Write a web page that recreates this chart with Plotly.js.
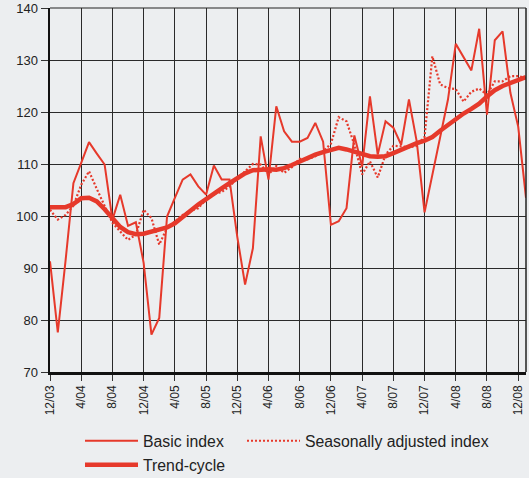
<!DOCTYPE html>
<html>
<head>
<meta charset="utf-8">
<script src="https://cdn.plot.ly/plotly-3.0.1.min.js"></script>
<style>
html,body{margin:0;padding:0;background:#eceef0;}
#chart{width:529px;height:478px;}
</style>
</head>
<body>
<div id="chart"></div>
<script>
// Months 12/03 .. 1/09
var months = ['12/03',
 '1/04','2/04','3/04','4/04','5/04','6/04','7/04','8/04','9/04','10/04','11/04','12/04',
 '1/05','2/05','3/05','4/05','5/05','6/05','7/05','8/05','9/05','10/05','11/05','12/05',
 '1/06','2/06','3/06','4/06','5/06','6/06','7/06','8/06','9/06','10/06','11/06','12/06',
 '1/07','2/07','3/07','4/07','5/07','6/07','7/07','8/07','9/07','10/07','11/07','12/07',
 '1/08','2/08','3/08','4/08','5/08','6/08','7/08','8/08','9/08','10/08','11/08','12/08',
 '1/09'];

var tickLabels = ['12/03','4/04','8/04','12/04','4/05','8/05','12/05','4/06','8/06','12/06','4/07','8/07','12/07','4/08','8/08','12/08'];

var basicIndex = [91.3, 77.6, 91.5, 106.3, 110.2, 114.2, 112.0, 109.9, 99.3, 104.1, 98.1, 98.8,
 91.0, 77.2, 80.4, 99.9, 103.5, 107.0, 108.0, 105.7, 104.1, 109.7, 107.0, 107.0,
 96.0, 86.8, 93.8, 115.3, 107.0, 121.1, 116.3, 114.3, 114.3, 115.0, 117.9, 114.3,
 98.3, 99.0, 101.5, 115.5, 109.5, 123.0, 111.8, 118.2, 117.0, 113.7, 122.4, 114.3,
 100.7, 107.8, 115.0, 122.4, 133.1, 130.6, 128.0, 136.0, 119.5, 133.8, 135.5, 123.7,
 117.2, 103.5];

var seasonallyAdjusted = [101.2, 99.3, 100.2, 102.0, 106.0, 108.6, 105.2, 101.8, 98.7, 97.0, 95.4, 96.4,
 101.2, 99.6, 94.5, 97.7, 99.0, 100.2, 101.0, 101.5, 103.2, 104.3, 104.6, 105.7,
 107.2, 108.6, 110.0, 109.9, 108.0, 109.6, 108.3, 109.4, 111.0, 110.9, 111.5, 112.4,
 113.9, 119.0, 118.2, 113.7, 108.0, 110.5, 107.4, 111.8, 113.5, 113.4, 113.2, 113.5,
 115.2, 130.7, 125.3, 124.6, 124.4, 122.0, 123.9, 124.5, 123.3, 125.9, 125.9, 126.9,
 126.9, 126.5];

var trendCycle = [101.7, 101.7, 101.7, 102.3, 103.4, 103.5, 102.8, 101.3, 99.5, 97.9, 96.9, 96.5,
 96.6, 97.0, 97.5, 97.8, 98.6, 99.7, 101.0, 102.2, 103.3, 104.4, 105.3, 106.3,
 107.3, 108.2, 108.8, 109.0, 109.0, 108.9, 109.2, 109.8, 110.5, 111.2, 111.8, 112.3,
 112.8, 113.1, 112.8, 112.4, 112.0, 111.5, 111.4, 111.5, 112.1, 112.8, 113.4, 114.0,
 114.5, 115.2, 116.4, 117.5, 118.7, 119.7, 120.6, 121.6, 123.0, 124.2, 125.0, 125.6,
 126.2, 126.7];

var red = '#e6392b';

var traces = [
  {x: months, y: basicIndex, type: 'scatter', mode: 'lines', name: 'Basic index',
   legend: 'legend', line: {color: red, width: 2}},
  {x: months, y: seasonallyAdjusted, type: 'scatter', mode: 'lines', name: 'Seasonally adjusted index',
   legend: 'legend2', line: {color: red, width: 2.2, dash: '2px,2px'}},
  {x: months, y: trendCycle, type: 'scatter', mode: 'lines', name: 'Trend-cycle',
   legend: 'legend3', line: {color: red, width: 4.5}}
];

function legendAt(x, y) {
  return {
    orientation: 'h', xref: 'container', yref: 'container',
    x: x, y: y, xanchor: 'left', yanchor: 'middle',
    bgcolor: 'rgba(0,0,0,0)', borderwidth: 0,
    font: {size: 15.8, color: '#222'}, itemwidth: 53
  };
}

var layout = {
  width: 529, height: 478,
  paper_bgcolor: '#eceef0', plot_bgcolor: '#eceef0',
  margin: {l: 50, r: 3, t: 8, b: 106, autoexpand: false},
  font: {family: 'Liberation Sans, Arial, sans-serif', color: '#222'},
  showlegend: true,
  legend: legendAt(80 / 529, 1 - 441 / 478),
  legend2: legendAt(242 / 529, 1 - 441 / 478),
  legend3: legendAt(80 / 529, 1 - 465 / 478),
  xaxis: {
    type: 'category', categoryorder: 'array', categoryarray: months,
    range: [0, 61], tickmode: 'array', tickvals: tickLabels, ticktext: tickLabels,
    tickangle: -90, tickfont: {size: 12, color: '#222'},
    showgrid: true, gridcolor: '#2a2a2a', gridwidth: 1,
    ticks: 'outside', ticklen: 6, tickcolor: '#333', tickwidth: 1,
    showline: true, linecolor: '#111', linewidth: 2.5, zeroline: false, fixedrange: true
  },
  yaxis: {
    range: [70, 140], dtick: 10, tick0: 70,
    tickfont: {size: 13, color: '#222'},
    showgrid: true, gridcolor: '#2a2a2a', gridwidth: 1,
    ticks: 'outside', ticklen: 7, tickcolor: '#333', tickwidth: 1,
    showline: true, linecolor: '#111', linewidth: 2.5, zeroline: false, fixedrange: true
  },
  shapes: [
    {type: 'line', xref: 'paper', yref: 'paper', x0: 1, x1: 1, y0: 0, y1: 1,
     line: {color: '#222', width: 1.5}},
    {type: 'line', xref: 'paper', yref: 'paper', x0: 0, x1: 1, y0: 1, y1: 1,
     line: {color: '#222', width: 1.2}}
  ]
};

Plotly.newPlot('chart', traces, layout, {displayModeBar: false, staticPlot: true});
</script>
</body>
</html>
